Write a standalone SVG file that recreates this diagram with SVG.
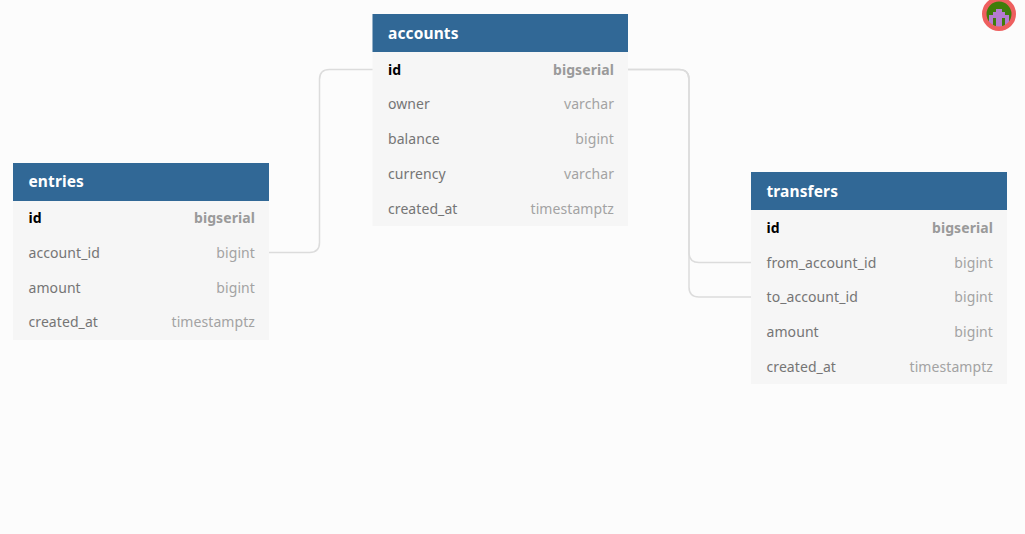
<svg xmlns="http://www.w3.org/2000/svg" width="1025" height="534" viewBox="0 0 1025 534">
<style>
text{font-family:"Noto Sans","Open Sans",sans-serif;font-size:14px;letter-spacing:.08px}
.bg{fill:#fcfcfc}
.head{fill:#316896}
.body{fill:#f6f6f6}
.title{fill:#fff;font-weight:700;font-size:15.500px;letter-spacing:.12px}
.f{fill:#757575}
.t{fill:#a3a3a3;text-anchor:end}
.pk{fill:#000;font-weight:700}
.pt{fill:#9a9a9a;font-weight:700;text-anchor:end}
.c{fill:none;stroke:#dcdcdc;stroke-width:1.5}
</style>
<rect class="bg" width="1025" height="534"/>
<g id="connectors">
<path class="c" d="M269 252.500H309.500Q319.500 252.500 319.500 242.500V79.500Q319.500 69.500 329.500 69.500H373"/>
<path class="c" d="M628 69.500H679Q689 69.500 689 79.500V252.500Q689 262.500 699 262.500H751"/>
<path class="c" d="M628 69.500H679Q689 69.500 689 79.500V287Q689 297 699 297H751"/>
</g>
<g id="accounts">
<rect class="body" x="372.500" y="14" width="255.500" height="212"/>
<rect class="head" x="372.500" y="14" width="255.500" height="38"/>
<text class="title" x="388" y="38.500">accounts</text>
<text class="pk" x="388" y="75">id</text><text class="pt" x="614" y="75">bigserial</text>
<text class="f" x="388" y="109">owner</text><text class="t" x="614" y="109">varchar</text>
<text class="f" x="388" y="144">balance</text><text class="t" x="614" y="144">bigint</text>
<text class="f" x="388" y="179">currency</text><text class="t" x="614" y="179">varchar</text>
<text class="f" x="388" y="214">created_at</text><text class="t" x="614" y="214">timestamptz</text>
</g>
<g id="entries">
<rect class="body" x="13" y="163" width="256" height="177"/>
<rect class="head" x="13" y="163" width="256" height="38"/>
<text class="title" x="28.500" y="187">entries</text>
<text class="pk" x="28.500" y="223">id</text><text class="pt" x="255" y="223">bigserial</text>
<text class="f" x="28.500" y="258">account_id</text><text class="t" x="255" y="258">bigint</text>
<text class="f" x="28.500" y="293">amount</text><text class="t" x="255" y="293">bigint</text>
<text class="f" x="28.500" y="327">created_at</text><text class="t" x="255" y="327">timestamptz</text>
</g>
<g id="transfers">
<rect class="body" x="751" y="172" width="256" height="212"/>
<rect class="head" x="751" y="172" width="256" height="38"/>
<text class="title" x="766.500" y="197">transfers</text>
<text class="pk" x="766.500" y="233">id</text><text class="pt" x="993" y="233">bigserial</text>
<text class="f" x="766.500" y="268">from_account_id</text><text class="t" x="993" y="268">bigint</text>
<text class="f" x="766.500" y="302">to_account_id</text><text class="t" x="993" y="302">bigint</text>
<text class="f" x="766.500" y="337">amount</text><text class="t" x="993" y="337">bigint</text>
<text class="f" x="766.500" y="372">created_at</text><text class="t" x="993" y="372">timestamptz</text>
</g>
<g id="avatar">
<circle cx="999" cy="14" r="14" fill="#3f7d0a"/>
<path fill="#b57bd0" d="M996 9h6v3h3v3h4v12h-4v-9h-3v9h-6v-9h-3v9h-4v-12h4v-3h3z"/>
<circle cx="999" cy="14" r="14.750" fill="none" stroke="#ee5f5f" stroke-width="4.500"/>
</g>
</svg>
